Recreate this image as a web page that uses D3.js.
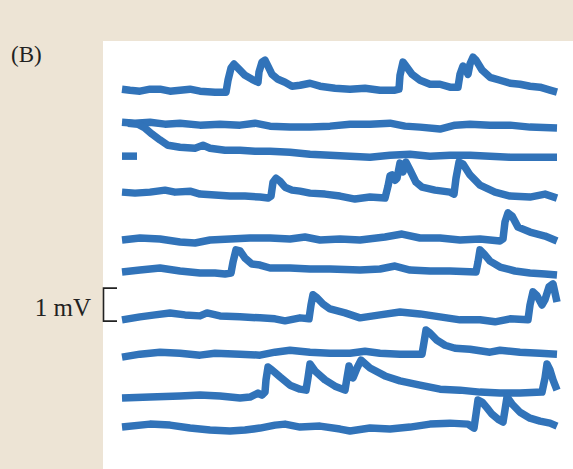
<!DOCTYPE html>
<meta charset="utf-8">
<script src="https://d3js.org/d3.v7.min.js"></script>
<style>
body { margin: 0; background: #ede4d5; }
</style>
<div id="chart"></div>
<script>

// time in seconds, voltage in mV relative to each trace's resting level
var trace1 = [[0,0.03],[0.08,0],[0.18,-0.03],[0.28,0.03],[0.38,0.03],[0.48,-0.03],[0.58,0],[0.68,0.03],[0.78,-0.03],[0.93,-0.06],[1.04,-0.06],[1.06,0.3],[1.09,0.67],[1.12,0.79],[1.16,0.67],[1.23,0.45],[1.30,0.33],[1.36,0.24],[1.37,0.55],[1.40,0.85],[1.43,0.91],[1.46,0.73],[1.50,0.48],[1.56,0.33],[1.63,0.24],[1.70,0.12],[1.78,0.15],[1.88,0.21],[1.98,0.12],[2.13,0.06],[2.28,0.03],[2.43,0.06],[2.58,0],[2.73,0],[2.77,0.03],[2.78,0.45],[2.81,0.85],[2.84,0.73],[2.90,0.48],[2.98,0.3],[3.08,0.18],[3.18,0.18],[3.28,0.09],[3.36,0.09],[3.38,0.48],[3.41,0.73],[3.44,0.61],[3.46,0.48],[3.48,0.79],[3.51,1.0],[3.54,0.91],[3.60,0.61],[3.68,0.39],[3.78,0.3],[3.88,0.21],[3.98,0.18],[4.08,0.12],[4.18,0.09],[4.28,0],[4.35,-0.06]];
var trace2 = [[0,0.06],[0.13,0.03],[0.28,0.06],[0.43,0],[0.58,0.03],[0.78,-0.03],[0.98,0],[1.18,-0.03],[1.33,0.03],[1.48,-0.06],[1.68,-0.09],[1.88,-0.09],[2.08,-0.06],[2.28,0],[2.48,0],[2.68,0.03],[2.83,-0.06],[2.98,-0.09],[3.18,-0.15],[3.33,-0.03],[3.48,0],[3.68,-0.03],[3.88,-0.03],[4.08,-0.09],[4.35,-0.12]];
var trace3 = [[0.06,0.03],[0.16,0],[0.23,-0.12],[0.30,-0.3],[0.38,-0.48],[0.46,-0.64],[0.58,-0.7],[0.73,-0.73],[0.81,-0.64],[0.88,-0.73],[1.03,-0.79],[1.18,-0.79],[1.33,-0.82],[1.48,-0.82],[1.68,-0.85],[1.88,-0.91],[2.08,-0.94],[2.28,-0.97],[2.48,-1.0],[2.68,-0.94],[2.88,-0.91],[3.08,-0.97],[3.28,-0.94],[3.48,-0.94],[3.68,-0.97],[3.88,-1.0],[4.08,-1.0],[4.35,-1.0]];
var stub = [[0,0],[0.15,0]];
var trace4 = [[0,0.03],[0.13,0],[0.28,0.03],[0.43,0.09],[0.53,0.03],[0.68,0.06],[0.78,-0.03],[0.93,-0.06],[1.08,-0.09],[1.23,-0.09],[1.38,-0.12],[1.46,-0.15],[1.49,-0.09],[1.51,0.33],[1.54,0.45],[1.58,0.36],[1.63,0.18],[1.70,0.09],[1.78,0.06],[1.88,0],[2.03,-0.03],[2.18,-0.09],[2.33,-0.18],[2.48,-0.12],[2.63,-0.15],[2.66,0.21],[2.68,0.52],[2.70,0.55],[2.73,0.39],[2.75,0.45],[2.78,0.91],[2.81,0.64],[2.84,0.94],[2.88,0.7],[2.94,0.33],[3.0,0.18],[3.13,0.09],[3.28,0.03],[3.32,-0.03],[3.34,0.45],[3.37,0.94],[3.41,0.88],[3.48,0.55],[3.58,0.24],[3.73,0.03],[3.88,-0.09],[4.08,-0.12],[4.23,-0.03],[4.35,-0.15]];
var trace5 = [[0,0],[0.18,0.06],[0.38,0.03],[0.58,-0.06],[0.73,-0.09],[0.88,0],[1.08,0.03],[1.28,0.06],[1.48,0.06],[1.68,0.03],[1.83,0.09],[1.98,0],[2.18,0.03],[2.38,0],[2.63,0.09],[2.80,0.18],[2.98,0.06],[3.18,0.06],[3.38,0],[3.58,0.03],[3.78,-0.03],[3.81,0.03],[3.83,0.55],[3.86,0.82],[3.90,0.73],[3.96,0.39],[4.08,0.24],[4.23,0.12],[4.35,-0.03]];
var trace6 = [[0,0],[0.18,0.06],[0.38,0.12],[0.58,0.03],[0.78,-0.03],[0.93,-0.03],[1.03,-0.06],[1.09,-0.03],[1.11,0.3],[1.14,0.67],[1.18,0.64],[1.23,0.42],[1.30,0.24],[1.38,0.21],[1.48,0.12],[1.68,0.12],[1.88,0.09],[2.08,0.09],[2.38,0.06],[2.58,0.09],[2.73,0.18],[2.88,0.06],[3.08,0.03],[3.28,0.03],[3.54,0],[3.56,0.3],[3.58,0.67],[3.62,0.55],[3.68,0.33],[3.78,0.15],[3.93,0.03],[4.08,-0.03],[4.23,-0.06],[4.35,-0.09]];
var trace7 = [[0,-0.06],[0.18,0.03],[0.33,0.09],[0.48,0.15],[0.63,0.09],[0.78,0.06],[0.85,0.15],[0.98,0.06],[1.18,0.03],[1.38,0],[1.53,-0.03],[1.63,-0.09],[1.78,0],[1.87,-0.03],[1.89,0.39],[1.91,0.7],[1.95,0.61],[2.01,0.42],[2.08,0.27],[2.23,0.15],[2.38,0],[2.58,0.09],[2.78,0.18],[2.98,0.12],[3.18,0.03],[3.38,-0.06],[3.58,-0.06],[3.73,-0.12],[3.88,-0.03],[4.06,-0.06],[4.08,0.39],[4.11,0.79],[4.15,0.67],[4.20,0.39],[4.23,0.55],[4.27,0.94],[4.31,1.03],[4.35,0.48]];
var trace8 = [[0,-0.06],[0.18,0.03],[0.38,0.09],[0.58,0.06],[0.78,0],[0.93,0.06],[1.18,0.03],[1.38,0],[1.53,0.09],[1.68,0.15],[1.88,0.09],[2.08,0.06],[2.28,0.06],[2.43,0.12],[2.58,0.06],[2.78,0.03],[3.0,0.03],[3.02,0.39],[3.04,0.76],[3.08,0.67],[3.15,0.45],[3.23,0.3],[3.33,0.21],[3.48,0.18],[3.68,0.09],[3.78,0.15],[3.98,0.09],[4.18,0.06],[4.35,0.03]];
var trace9 = [[0,0],[0.28,0.03],[0.58,0.06],[0.78,0.09],[0.98,0.06],[1.18,0],[1.28,0.03],[1.36,0.15],[1.40,0.09],[1.43,0.18],[1.44,0.55],[1.46,0.94],[1.50,0.85],[1.58,0.64],[1.68,0.39],[1.78,0.27],[1.84,0.24],[1.86,0.61],[1.88,1.03],[1.93,0.82],[2.03,0.55],[2.13,0.36],[2.23,0.24],[2.25,0.61],[2.27,0.97],[2.31,0.61],[2.35,0.91],[2.39,1.15],[2.48,0.91],[2.63,0.67],[2.78,0.52],[2.98,0.39],[3.18,0.27],[3.38,0.24],[3.58,0.18],[3.78,0.15],[3.98,0.15],[4.20,0.18],[4.23,0.61],[4.25,1.03],[4.28,0.85],[4.31,0.55],[4.35,0.24]];
var trace10 = [[0,0.03],[0.28,0.12],[0.48,0.09],[0.68,0],[0.88,-0.06],[1.08,-0.09],[1.23,-0.06],[1.38,0],[1.53,0.09],[1.63,0.12],[1.78,0.03],[1.98,0.06],[2.18,-0.03],[2.28,-0.09],[2.48,0],[2.68,-0.03],[2.88,0.03],[3.08,0.12],[3.28,0.15],[3.46,0.12],[3.52,0],[3.54,0.42],[3.56,0.85],[3.60,0.79],[3.65,0.61],[3.70,0.42],[3.76,0.27],[3.81,0.18],[3.83,0.55],[3.85,0.94],[3.90,0.73],[3.98,0.48],[4.08,0.3],[4.18,0.21],[4.28,0.15],[4.35,0.06]];

var traces = [trace1, trace2, trace3, stub, trace4, trace5, trace6, trace7, trace8, trace9, trace10];
// resting level of each trace on the stacked mV axis
var offsets = [11.48, 10.45, 10.45, 9.48, 8.36, 6.94, 5.97, 4.58, 3.45, 2.15, 1.24];

var scaleBar = [4.48, 5.48]; // 1 mV

var width = 573, height = 469;

var svg = d3.select("#chart")
  .append("svg")
    .attr("width", width)
    .attr("height", height);

// white recording panel
svg.append("rect")
  .attr("x", 103)
  .attr("y", 41)
  .attr("width", width - 103)
  .attr("height", height - 41)
  .style("fill", "white");

var x = d3.scaleLinear()
  .domain([0, 4.35])
  .range([122, 557]);

var y = d3.scaleLinear()
  .domain([0, 13])
  .range([height, 40]);

traces.forEach(function(tr, i) {
  var line = d3.line()
    .x(function(d) { return x(d[0]); })
    .y(function(d) { return y(offsets[i] + d[1]); });
  svg.append("path")
    .datum(tr)
    .attr("d", line)
    .style("fill", "none")
    .style("stroke", "#3173b9")
    .style("stroke-width", 7.5)
    .style("stroke-linejoin", "round");
});

// scale bracket
svg.append("path")
  .attr("d", "M117," + y(scaleBar[1]) + "H103.5V" + y(scaleBar[0]) + "H117")
  .style("fill", "none")
  .style("stroke", "#222")
  .style("stroke-width", 1.6);

svg.append("text")
  .attr("x", 91)
  .attr("y", 316)
  .attr("text-anchor", "end")
  .style("font-family", "Liberation Serif, serif")
  .style("font-size", "25px")
  .style("fill", "#222")
  .text("1 mV");

svg.append("text")
  .attr("x", 11)
  .attr("y", 62)
  .style("font-family", "Liberation Serif, serif")
  .style("font-size", "23px")
  .style("fill", "#222")
  .text("(B)");

</script>
